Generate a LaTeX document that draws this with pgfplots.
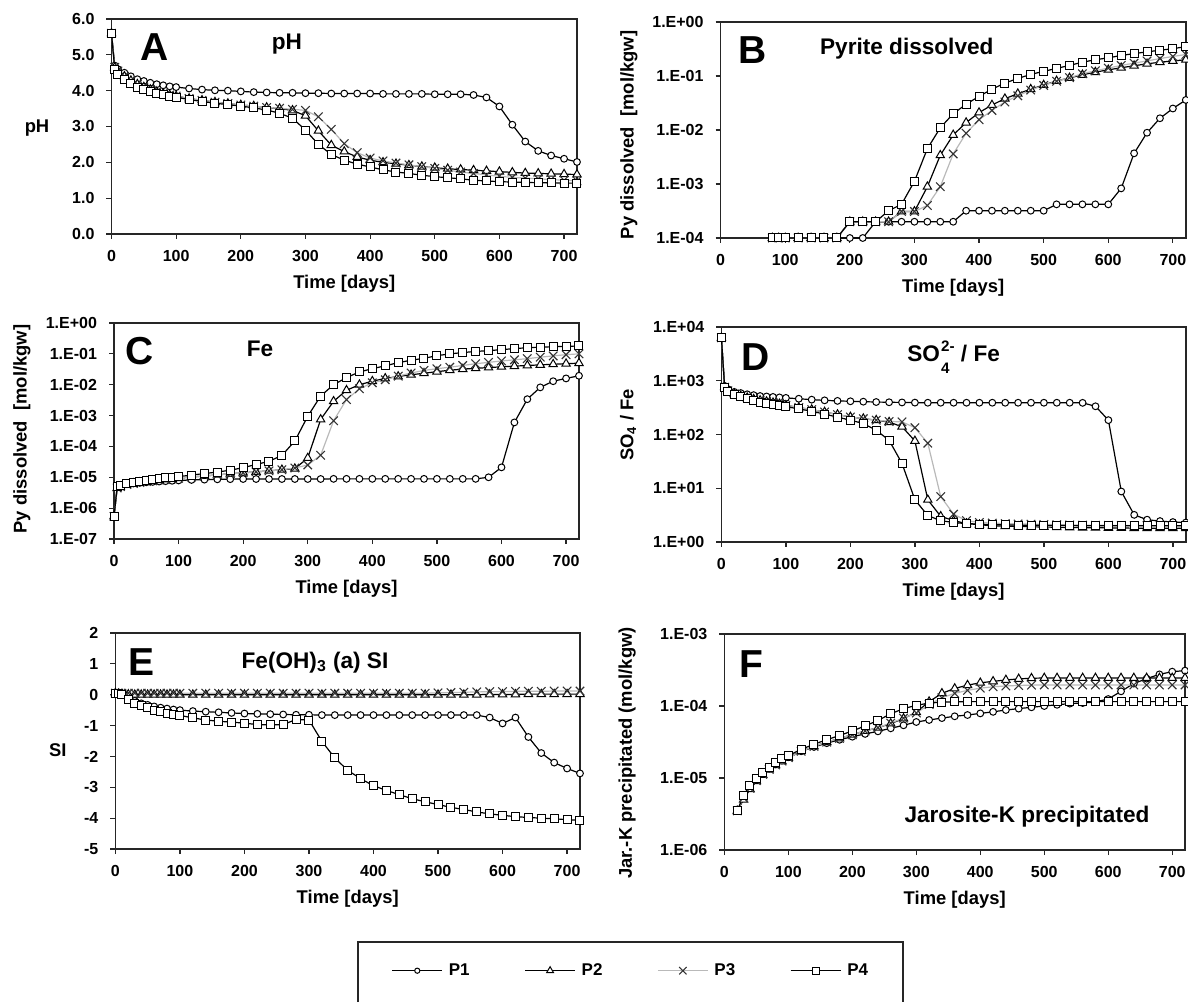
\documentclass[border=0pt]{standalone}
\usepackage{pgfplots}
\usepackage{pgfplotstable}
\pgfplotsset{compat=1.18}
\usepackage{fontspec}
\setmainfont{Liberation Sans}

\pgfplotstableread{
t a b c d
0 5.6 5.6 5.6 5.6
5 4.7 4.65 4.65 4.6
10 4.6 4.55 4.55 4.45
20 4.5 4.4 4.4 4.3
30 4.4 4.28 4.28 4.2
40 4.32 4.18 4.18 4.1
50 4.27 4.1 4.1 4.02
60 4.22 4.03 4.03 3.97
70 4.18 3.97 3.97 3.92
80 4.15 3.92 3.92 3.88
90 4.12 3.88 3.88 3.85
100 4.1 3.85 3.85 3.82
120 4.06 3.78 3.78 3.75
140 4.03 3.73 3.73 3.7
160 4.01 3.68 3.68 3.65
180 4.0 3.64 3.64 3.61
200 3.98 3.6 3.6 3.57
220 3.96 3.57 3.57 3.52
240 3.95 3.53 3.53 3.46
260 3.94 3.5 3.51 3.37
280 3.94 3.45 3.48 3.23
300 3.93 3.3 3.45 2.9
320 3.93 2.88 3.27 2.5
340 3.92 2.48 2.92 2.22
360 3.92 2.3 2.52 2.06
380 3.92 2.15 2.27 1.95
400 3.92 2.06 2.12 1.87
420 3.91 2.0 2.04 1.79
440 3.91 1.96 1.98 1.73
460 3.91 1.92 1.93 1.69
480 3.91 1.88 1.88 1.64
500 3.9 1.85 1.83 1.6
520 3.9 1.82 1.78 1.57
540 3.9 1.8 1.73 1.54
560 3.88 1.78 1.69 1.5
580 3.81 1.76 1.65 1.48
600 3.56 1.74 1.61 1.46
620 3.05 1.72 1.58 1.45
640 2.58 1.7 1.56 1.44
660 2.32 1.69 1.54 1.43
680 2.19 1.68 1.52 1.43
700 2.1 1.67 1.5 1.42
720 2.01 1.66 1.48 1.42
}\tabA

\pgfplotstableread{
t a b c d
80 1e-4 1e-4 1e-4 1e-4
90 1e-4 1e-4 1e-4 1e-4
100 1e-4 1e-4 1e-4 1e-4
120 1e-4 1e-4 1e-4 1e-4
140 1e-4 1e-4 1e-4 1e-4
160 1e-4 1e-4 1e-4 1e-4
180 1e-4 1e-4 1e-4 1e-4
200 1e-4 2e-4 2e-4 2e-4
220 1e-4 2e-4 2e-4 2e-4
240 2e-4 2e-4 2e-4 2e-4
260 2e-4 2e-4 2e-4 3.2e-4
280 2e-4 3.1e-4 3.1e-4 4.2e-4
300 2e-4 3.1e-4 3.1e-4 1.12e-3
320 2e-4 8.9e-4 4e-4 4.5e-3
340 2e-4 3.4e-3 8.9e-4 1.1e-2
360 2e-4 8.1e-3 3.6e-3 2e-2
380 3.2e-4 1.37e-2 8.7e-3 3e-2
400 3.2e-4 2.1e-2 1.55e-2 4.2e-2
420 3.2e-4 2.9e-2 2.3e-2 5.7e-2
440 3.2e-4 3.8e-2 3.3e-2 7.4e-2
460 3.2e-4 4.7e-2 4.3e-2 9e-2
480 3.2e-4 5.7e-2 5.5e-2 0.107
500 3.2e-4 6.8e-2 6.7e-2 0.122
520 4.2e-4 8.1e-2 8e-2 0.138
540 4.2e-4 9.2e-2 9.3e-2 0.157
560 4.2e-4 0.105 0.11 0.18
580 4.2e-4 0.118 0.125 0.2
600 4.2e-4 0.13 0.14 0.217
620 8.3e-4 0.142 0.157 0.24
640 3.7e-3 0.155 0.173 0.26
660 8.9e-3 0.168 0.19 0.28
680 1.65e-2 0.18 0.21 0.3
700 2.5e-2 0.19 0.23 0.32
720 3.6e-2 0.2 0.25 0.35
}\tabB

\pgfplotstableread{
t a b c d
0 5.4e-7 5.4e-7 5.4e-7 5.4e-7
5 5e-6 4.5e-6 4.5e-6 5e-6
10 5.5e-6 5e-6 5e-6 5.5e-6
20 6e-6 5.8e-6 5.8e-6 6.2e-6
30 6.3e-6 6.3e-6 6.3e-6 6.8e-6
40 6.6e-6 6.8e-6 6.8e-6 7.3e-6
50 6.9e-6 7.3e-6 7.3e-6 7.9e-6
60 7.1e-6 7.7e-6 7.7e-6 8.5e-6
70 7.3e-6 8.1e-6 8.1e-6 9e-6
80 7.5e-6 8.5e-6 8.5e-6 9.5e-6
90 7.7e-6 8.9e-6 8.9e-6 1e-5
100 7.9e-6 9.3e-6 9.3e-6 1.05e-5
120 8.2e-6 1.02e-5 1.02e-5 1.18e-5
140 8.4e-6 1.1e-5 1.1e-5 1.32e-5
160 8.6e-6 1.2e-5 1.2e-5 1.48e-5
180 8.7e-6 1.3e-5 1.3e-5 1.7e-5
200 8.8e-6 1.4e-5 1.4e-5 2.05e-5
220 8.8e-6 1.5e-5 1.5e-5 2.6e-5
240 8.8e-6 1.62e-5 1.62e-5 3.3e-5
260 8.8e-6 1.75e-5 1.75e-5 5.1e-5
280 8.8e-6 1.9e-5 2e-5 1.5e-4
300 8.8e-6 4.2e-5 2.5e-5 9.5e-4
320 8.8e-6 7.5e-4 5.2e-5 4.3e-3
340 8.9e-6 2.9e-3 6.8e-4 1e-2
360 8.9e-6 6.6e-3 3.3e-3 1.7e-2
380 8.9e-6 1e-2 7.4e-3 2.6e-2
400 8.9e-6 1.3e-2 1.15e-2 3.3e-2
420 8.9e-6 1.6e-2 1.45e-2 4.1e-2
440 8.9e-6 1.85e-2 1.9e-2 5.2e-2
460 8.9e-6 2.1e-2 2.4e-2 6.2e-2
480 8.9e-6 2.35e-2 2.9e-2 7.2e-2
500 8.9e-6 2.65e-2 3.3e-2 8.7e-2
520 8.9e-6 2.95e-2 3.7e-2 0.1
540 8.9e-6 3.2e-2 4.2e-2 0.11
560 8.9e-6 3.4e-2 4.8e-2 0.12
580 1e-5 3.6e-2 5.3e-2 0.127
600 2.1e-5 3.8e-2 5.9e-2 0.137
620 6e-4 4e-2 6.4e-2 0.148
640 3.4e-3 4.2e-2 7e-2 0.158
660 8.2e-3 4.4e-2 7.8e-2 0.165
680 1.3e-2 4.6e-2 8.6e-2 0.17
700 1.6e-2 4.8e-2 9.4e-2 0.175
720 1.95e-2 5e-2 0.1 0.18
}\tabC

\pgfplotstableread{
t a b c d
0 6300 6300 6300 6300
5 800 760 760 760
10 700 650 650 640
20 620 570 570 560
30 590 520 520 500
40 560 485 485 460
50 540 455 455 430
60 520 430 430 400
70 510 410 410 380
80 500 390 390 360
90 490 370 370 345
100 480 350 350 330
120 463 318 318 300
140 445 290 290 270
160 432 262 262 240
180 422 235 235 210
200 415 212 212 185
220 408 197 197 160
240 402 185 185 120
260 398 170 175 78
280 395 140 172 29
300 392 76 134 6.1
320 390 6.1 69 3.1
340 390 3.0 7.0 2.5
360 390 2.5 3.3 2.3
380 390 2.2 2.5 2.2
400 390 2.1 2.3 2.15
420 390 2.0 2.25 2.1
440 390 1.97 2.2 2.08
460 390 1.95 2.17 2.06
480 390 1.92 2.15 2.05
500 390 1.9 2.12 2.04
520 390 1.88 2.1 2.03
540 390 1.86 2.08 2.02
560 388 1.85 2.06 2.01
580 335 1.84 2.05 2.0
600 185 1.83 2.04 2.0
620 8.7 1.82 2.03 2.0
640 3.2 1.81 2.02 2.0
660 2.6 1.8 2.02 2.0
680 2.45 1.8 2.01 2.0
700 2.35 1.8 2.0 2.0
720 2.3 1.8 2.0 2.0
}\tabD

\pgfplotstableread{
t a b c d
0 0.05 0.05 0.05 0.05
5 0.05 0.03 0.05 0.05
10 0.0 0.02 0.05 0.0
20 -0.1 0.01 0.05 -0.15
30 -0.2 0.0 0.05 -0.27
40 -0.28 0.0 0.05 -0.36
50 -0.33 0.0 0.05 -0.43
60 -0.38 0.0 0.05 -0.5
70 -0.42 0.0 0.05 -0.55
80 -0.45 0.0 0.05 -0.6
90 -0.48 0.0 0.05 -0.64
100 -0.5 0.0 0.05 -0.67
120 -0.53 0.0 0.05 -0.75
140 -0.55 0.0 0.05 -0.82
160 -0.57 0.0 0.05 -0.86
180 -0.59 0.0 0.05 -0.89
200 -0.61 0.0 0.05 -0.92
220 -0.62 0.0 0.05 -0.97
240 -0.63 0.0 0.05 -0.97
260 -0.64 0.0 0.05 -0.97
280 -0.65 0.0 0.05 -0.8
300 -0.65 0.0 0.05 -0.82
320 -0.66 0.0 0.05 -1.51
340 -0.66 0.0 0.05 -2.05
360 -0.66 0.0 0.05 -2.45
380 -0.66 0.0 0.05 -2.72
400 -0.66 0.0 0.05 -2.95
420 -0.66 0.0 0.05 -3.1
440 -0.66 0.0 0.05 -3.24
460 -0.66 0.0 0.05 -3.37
480 -0.66 0.0 0.05 -3.47
500 -0.66 0.0 0.06 -3.56
520 -0.66 0.0 0.07 -3.65
540 -0.66 0.0 0.08 -3.72
560 -0.66 0.0 0.09 -3.8
580 -0.74 0.01 0.1 -3.86
600 -0.93 0.01 0.1 -3.91
620 -0.74 0.01 0.11 -3.95
640 -1.37 0.02 0.11 -3.98
660 -1.89 0.02 0.11 -4.0
680 -2.2 0.02 0.12 -4.02
700 -2.39 0.02 0.12 -4.05
720 -2.55 0.02 0.12 -4.07
}\tabE

\pgfplotstableread{
t a b c d
20 3.5e-6 3.5e-6 3.5e-6 3.5e-6
30 5.5e-6 5e-6 5.3e-6 5.7e-6
40 7.5e-6 7e-6 7.2e-6 7.8e-6
50 9.5e-6 9e-6 9.2e-6 1e-5
60 1.15e-5 1.1e-5 1.12e-5 1.2e-5
70 1.35e-5 1.3e-5 1.32e-5 1.42e-5
80 1.55e-5 1.5e-5 1.52e-5 1.65e-5
90 1.75e-5 1.7e-5 1.72e-5 1.85e-5
100 1.95e-5 1.9e-5 1.92e-5 2.05e-5
120 2.35e-5 2.35e-5 2.35e-5 2.5e-5
140 2.7e-5 2.75e-5 2.75e-5 2.95e-5
160 3.05e-5 3.15e-5 3.15e-5 3.4e-5
180 3.4e-5 3.55e-5 3.55e-5 3.9e-5
200 3.75e-5 4e-5 4e-5 4.5e-5
220 4.1e-5 4.5e-5 4.5e-5 5.3e-5
240 4.45e-5 5e-5 5e-5 6.3e-5
260 4.9e-5 5.7e-5 5.8e-5 7.8e-5
280 5.4e-5 6.7e-5 6.8e-5 9.2e-5
300 6e-5 8.2e-5 8e-5 1.02e-4
320 6.4e-5 1.15e-4 1.05e-4 1.1e-4
340 6.8e-5 1.5e-4 1.3e-4 1.13e-4
360 7.2e-5 1.75e-4 1.5e-4 1.14e-4
380 7.5e-5 1.95e-4 1.65e-4 1.15e-4
400 7.9e-5 2.1e-4 1.77e-4 1.15e-4
420 8.3e-5 2.2e-4 1.85e-4 1.15e-4
440 8.8e-5 2.3e-4 1.9e-4 1.15e-4
460 9.2e-5 2.38e-4 1.93e-4 1.15e-4
480 9.6e-5 2.43e-4 1.95e-4 1.15e-4
500 1e-4 2.45e-4 1.96e-4 1.15e-4
520 1.04e-4 2.45e-4 1.96e-4 1.15e-4
540 1.08e-4 2.45e-4 1.96e-4 1.15e-4
560 1.1e-4 2.45e-4 1.96e-4 1.15e-4
580 1.14e-4 2.45e-4 1.96e-4 1.15e-4
600 1.25e-4 2.45e-4 1.96e-4 1.15e-4
620 1.6e-4 2.45e-4 1.96e-4 1.15e-4
640 2.05e-4 2.45e-4 1.96e-4 1.15e-4
660 2.4e-4 2.45e-4 1.96e-4 1.15e-4
680 2.75e-4 2.45e-4 1.96e-4 1.15e-4
700 3e-4 2.45e-4 1.96e-4 1.15e-4
720 3.1e-4 2.45e-4 1.96e-4 1.15e-4
}\tabF

\pgfplotsset{
  panel/.style={
    scale only axis, anchor=south west, clip=false,
    xmin=0, xmax=720, xtick={0,100,...,700},
    tick align=outside, xtick pos=left, ytick pos=left,
    major tick length=2.5pt, yminorticks=false, xminorticks=false,
    axis line style={line width=0.75pt, black!85},
    every tick/.style={black!85, line width=0.6pt},
    tick label style={font=\fontsize{8}{9}\selectfont\bfseries},
    xticklabel style={yshift=-2pt},
    yticklabel style={xshift=-2.5pt},
    /pgf/number format/assume math mode=true,
    label style={font=\fontsize{9.2}{11}\selectfont\bfseries},
    xlabel={Time [days]},
    xlabel style={at={(axis description cs:0.5,-0.232)}, anchor=center},
  },
  s1/.style={black, line width=0.6pt, mark=*, mark size=1.7pt, mark options={fill=white, line width=0.5pt}},
  s2/.style={black, line width=0.6pt, mark=triangle*, mark size=2.4pt, mark options={fill=white, line width=0.5pt}},
  s3/.style={gray!55, line width=0.6pt, mark=x, mark size=3pt, mark options={black!80, line width=0.55pt}},
  s4/.style={black, line width=0.6pt, mark=square*, mark size=2pt, mark options={fill=white, line width=0.5pt}},
}

\newcommand{\ttl}{\fontsize{11.3}{13}\selectfont\bfseries}
\newcommand{\ltr}{\fontsize{19.5}{22}\selectfont\bfseries}

\begin{document}
\begin{tikzpicture}
\useasboundingbox (0,0) rectangle (594pt,501pt);

% A
\begin{axis}[panel, at={(55.75pt,384pt)}, width=232.75pt, height=107.5pt,
  ymin=0, ymax=6, ytick={0,1,...,6},
  yticklabel style={/pgf/number format/.cd, fixed, fixed zerofill, precision=1},
  ylabel={pH}, ylabel style={rotate=-90, at={(axis description cs:-0.160,0.493)}, anchor=center}]
\addplot[s1] table[x=t,y=a] {\tabA};
\addplot[s2] table[x=t,y=b] {\tabA};
\addplot[s3] table[x=t,y=c] {\tabA};
\addplot[s4] table[x=t,y=d] {\tabA};
\end{axis}

% B
\begin{axis}[panel, at={(360.3pt,382pt)}, width=232.6pt, height=108pt,
  ymode=log, ymin=1e-4, ymax=1, ytick={1e-4,1e-3,1e-2,1e-1,1},
  yticklabels={1.E-04,1.E-03,1.E-02,1.E-01,1.E+00},
  ylabel={Py dissolved\ \ [mol/kgw]}, ylabel style={at={(axis description cs:-0.197,0.477)}, anchor=center}]
\addplot[s1] table[x=t,y=a] {\tabB};
\addplot[s2] table[x=t,y=b] {\tabB};
\addplot[s3] table[x=t,y=c] {\tabB};
\addplot[s4] table[x=t,y=d] {\tabB};
\end{axis}

% C
\begin{axis}[panel, at={(57pt,231.5pt)}, width=232.5pt, height=108pt,
  ymode=log, ymin=1e-7, ymax=1, ytick={1e-7,1e-6,1e-5,1e-4,1e-3,1e-2,1e-1,1},
  yticklabels={1.E-07,1.E-06,1.E-05,1.E-04,1.E-03,1.E-02,1.E-01,1.E+00},
  ylabel={Py dissolved\ \ [mol/kgw]}, ylabel style={at={(axis description cs:-0.198,0.509)}, anchor=center}]
\addplot[s1] table[x=t,y=a] {\tabC};
\addplot[s2] table[x=t,y=b] {\tabC};
\addplot[s3] table[x=t,y=c] {\tabC};
\addplot[s4] table[x=t,y=d] {\tabC};
\end{axis}

% D
\begin{axis}[panel, at={(360.7pt,230pt)}, width=232.2pt, height=107.5pt,
  ymode=log, ymin=1, ymax=1e4, ytick={1,10,100,1000,10000},
  yticklabels={1.E+00,1.E+01,1.E+02,1.E+03,1.E+04},
  ylabel={SO\textsubscript{4} / Fe}, ylabel style={at={(axis description cs:-0.201,0.544)}, anchor=center}]
\addplot[s1] table[x=t,y=a] {\tabD};
\addplot[s2] table[x=t,y=b] {\tabD};
\addplot[s3] table[x=t,y=c] {\tabD};
\addplot[s4] table[x=t,y=d] {\tabD};
\end{axis}

% E
\begin{axis}[panel, at={(57.7pt,76.5pt)}, width=232.3pt, height=108pt,
  ymin=-5, ymax=2, ytick={-5,-4,...,2},
  ylabel={SI}, ylabel style={rotate=-90, at={(axis description cs:-0.124,0.458)}, anchor=center}]
\addplot[s1] table[x=t,y=a] {\tabE};
\addplot[s2] table[x=t,y=b] {\tabE};
\addplot[s3] table[x=t,y=c] {\tabE};
\addplot[s4] table[x=t,y=d] {\tabE};
\end{axis}

% F
\begin{axis}[panel, at={(362.2pt,76pt)}, width=230.3pt, height=108pt,
  ymode=log, ymin=1e-6, ymax=1e-3, ytick={1e-6,1e-5,1e-4,1e-3},
  yticklabels={1.E-06,1.E-05,1.E-04,1.E-03},
  ylabel={Jar.-K precipitated (mol/kgw)}, ylabel style={at={(axis description cs:-0.211,0.449)}, anchor=center}]
\addplot[s1] table[x=t,y=a] {\tabF};
\addplot[s2] table[x=t,y=b] {\tabF};
\addplot[s3] table[x=t,y=c] {\tabF};
\addplot[s4] table[x=t,y=d] {\tabF};
\end{axis}

% legend
\begin{axis}[at={(0pt,0pt)}, anchor=south west, scale only axis, width=594pt, height=31.3pt,
  hide axis, xmin=0, xmax=1, ymin=0, ymax=1,
  legend columns=4,
  legend image code/.code={\draw[mark repeat=2, mark phase=2] plot coordinates {(0pt,0pt) (12.5pt,0pt) (25pt,0pt)};},
  legend style={draw=none, fill=none, inner sep=0pt, outer sep=0pt, anchor=west,
    at={(axis description cs:0.3297,0.5)}, font=\fontsize{8.5}{10}\selectfont\bfseries,
    nodes={inner sep=0pt},
    /tikz/every odd column/.append style={column sep=3pt},
    /tikz/every even column/.append style={column sep=27.4pt}}]
\addlegendimage{s1, mark size=1.3pt}\addlegendentry{P1}
\addlegendimage{s2, mark size=2pt}\addlegendentry{P2}
\addlegendimage{s3, mark size=2.6pt}\addlegendentry{P3}
\addlegendimage{s4, mark size=1.7pt}\addlegendentry{P4}
\end{axis}
\draw[line width=0.75pt, black!85] (179pt,0pt) -- (179pt,30pt) -- (451.5pt,30pt) -- (451.5pt,0pt);

% titles and panel letters
\node[anchor=base, inner sep=0pt] at (77.5pt,470.5pt) {\ltr A};
\node[anchor=base, inner sep=0pt] at (143.5pt,476pt) {\ttl pH};
\node[anchor=base, inner sep=0pt] at (376.3pt,469pt) {\ltr B};
\node[anchor=base, inner sep=0pt] at (453.4pt,473.5pt) {\ttl Pyrite dissolved};
\node[anchor=base, inner sep=0pt] at (70pt,318.5pt) {\ltr C};
\node[anchor=base, inner sep=0pt] at (130pt,322.5pt) {\ttl Fe};
\node[anchor=base, inner sep=0pt] at (378pt,315.5pt) {\ltr D};
\node[anchor=base, inner sep=0pt] at (476.8pt,320pt) {\ttl SO\kern0.6pt\raisebox{-5.6pt}{\fontsize{7.6}{11}\selectfont\bfseries\begin{tabular}[b]{@{}l@{}}2-\\4\end{tabular}}\ / Fe};
\node[anchor=base, inner sep=0pt] at (71pt,163.5pt) {\ltr E};
\node[anchor=base, inner sep=0pt] at (157.5pt,167pt) {\ttl Fe(OH)\textsubscript{3} (a) SI};
\node[anchor=base, inner sep=0pt] at (375.5pt,162.5pt) {\ltr F};
\node[anchor=base, inner sep=0pt] at (513.5pt,90pt) {\ttl Jarosite-K precipitated};
\end{tikzpicture}
\end{document}
